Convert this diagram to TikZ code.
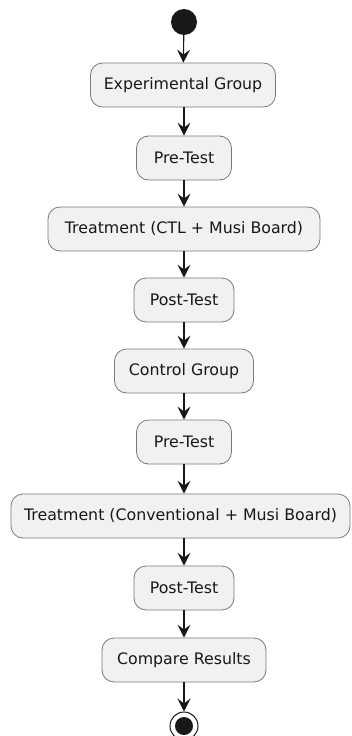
\documentclass[tikz,border=0pt]{standalone}
\usepackage{fontspec}
\setmainfont{DejaVu Sans}
\usetikzlibrary{arrows.meta}
\definecolor{boxfill}{HTML}{F1F1F1}
\definecolor{boxline}{HTML}{7A7A7A}
\definecolor{ink}{HTML}{181818}
\tikzset{
  act/.style={draw=boxline, fill=boxfill, line width=0.8bp, rounded corners=12bp,
    minimum height=44bp, inner xsep=10bp, font=\fontsize{15.8bp}{18bp}\selectfont, text=ink},
  flow/.style={draw=ink, line width=1.1bp, -{Stealth[length=13bp,width=13bp,inset=5bp]}}
}
\begin{document}
\begin{tikzpicture}[x=1bp,y=-1bp]
\useasboundingbox (0,0) rectangle (351,736);
\node[circle, fill=ink, minimum size=26bp, inner sep=0] (start) at (184,22) {};
\node[act, minimum width=185bp] (eg) at (183,85) {Experimental Group};
\node[act, minimum width=95bp] (pre1) at (184,158) {Pre-Test};
\node[act, minimum width=272bp] (t1) at (184,229) {Treatment (CTL + Musi Board)};
\node[act, minimum width=100bp] (post1) at (184,300) {Post-Test};
\node[act, minimum width=139bp] (cg) at (184,371) {Control Group};
\node[act, minimum width=95bp] (pre2) at (184,442) {Pre-Test};
\node[act, minimum width=339bp, inner xsep=2bp] (t2) at (180.5,516) {Treatment (Conventional + Musi Board)};
\node[act, minimum width=100bp] (post2) at (184,588) {Post-Test};
\node[act, minimum width=164bp] (cmp) at (184,660) {Compare Results};
\node[circle, draw=ink, line width=1bp, fill=white, minimum size=28bp, inner sep=0] (end) at (184,726) {};
\node[circle, fill=ink, minimum size=18bp, inner sep=0] (endin) at (end.center) {};
\draw[flow] (start) -- (eg);
\draw[flow] (eg.south -| pre1.north) -- (pre1);
\draw[flow] (pre1) -- (t1);
\draw[flow] (t1) -- (post1);
\draw[flow] (post1) -- (cg);
\draw[flow] (cg) -- (pre2);
\draw[flow] (pre2) -- (t2.north -| pre2.south);
\draw[flow] (t2.south -| post2.north) -- (post2);
\draw[flow] (post2) -- (cmp);
\draw[flow] (cmp) -- (end);
\end{tikzpicture}
\end{document}
